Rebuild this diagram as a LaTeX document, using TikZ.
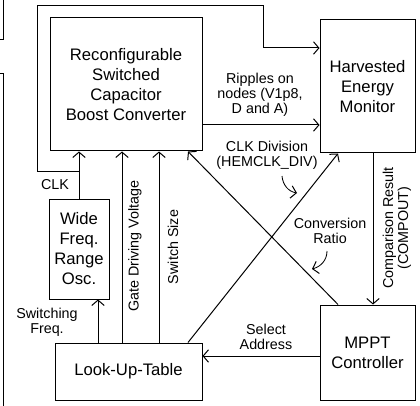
\documentclass[tikz,border=0pt]{standalone}
\usepackage{fontspec}
\setmainfont{Liberation Sans}
\usetikzlibrary{arrows.meta}

\tikzset{
  block/.style={draw, line width=0.6pt, inner sep=0pt, align=center, font=\fontsize{10}{12}\selectfont},
  lbl/.style={align=center, inner sep=0pt, font=\fontsize{8.6}{9}\selectfont},
  arr/.style={line width=0.6pt, -{Straight Barb[length=3.2pt,width=7.5pt,line width=0.6pt]}},
  wire/.style={line width=0.6pt}
}

\begin{document}
\begin{tikzpicture}[x=0.6pt, y=-0.6pt]
  \useasboundingbox (0,0) rectangle (420,406);

  % edge of neighbouring panel
  \draw[wire] (3,0) -- (3,40) -- (0,40);
  \draw[wire] (0,74) -- (3,74) -- (3,406);

  % blocks
  \node[block, minimum width=91.2pt, minimum height=79.8pt] (conv) at (126,84.5)
    {Reconfigurable\\Switched\\Capacitor\\Boost Converter};
  \node[block, minimum width=57pt, minimum height=79.8pt] (hem) at (367.5,86.5)
    {Harvested\\Energy\\Monitor};
  \node[block, minimum width=57pt, minimum height=57pt] (mppt) at (367.5,352.5)
    {MPPT\\Controller};
  \node[block, minimum width=88.2pt, minimum height=34.2pt] (lut) at (128.5,371.5)
    {Look-Up-Table};
  \node[block, minimum width=36pt, minimum height=60pt] (osc) at (79,249)
    {Wide\\Freq.\\Range\\Osc.};

  % clock path and feedback loop to the monitor
  \coordinate (clkfb) at (osc.north |- 0,172);
  \draw[arr] (osc.north) -- (osc.north |- conv.south);
  \draw[arr] (clkfb) -| (37,6) -| (263,48) -- (hem.west |- 0,48);
  \node[lbl] (clklbl) at (55,185) {CLK};

  % control lines from the table
  \draw[arr] (lut.north -| 98,0) -- (osc.south -| 98,0);
  \draw[arr] (lut.north -| 122,0) -- (conv.south -| 122,0);
  \draw[arr] (lut.north -| 159,0) -- (conv.south -| 159,0);
  \node[lbl] (swflbl) at (47,322) {Switching\\Freq.};
  \node[lbl, rotate=90] (gdvlbl) at (135,246) {Gate Driving Voltage};
  \node[lbl, rotate=90] (sslbl) at (173,247) {Switch Size};

  % converter to monitor
  \draw[arr] (conv.east |- 0,125) -- (hem.west |- 0,125);
  \node[lbl] (riplbl) at (260,95) {Ripples on\\nodes (V1p8,\\D and A)};

  % crossing lines
  \draw[arr] (lut.north -| 188,0) -- (hem.south -| 338,0);
  \draw[arr] (mppt.north -| 338,0) -- (conv.south -| 188,0);
  \node[lbl] (divlbl) at (267,155.5) {CLK Division\\(HEMCLK\_DIV)};
  \node[lbl] (crlbl) at (330,231) {Conversion\\Ratio};
  \draw[arr, line width=0.5pt] (282,176) to[out=-85,in=170] (297,193);
  \draw[arr, line width=0.5pt] (327,251) to[out=-90,in=15] (312,269);

  % monitor to controller and back to the table
  \draw[arr] (hem.south -| 373,0) -- (mppt.north -| 373,0);
  \node[lbl, rotate=90] (cmplbl) at (397,228) {Comparison Result\\(COMPOUT)};
  \draw[arr] (mppt.west |- 0,356) -- (lut.east |- 0,356);
  \node[lbl] (sellbl) at (266,337) {Select\\Address};
\end{tikzpicture}
\end{document}
